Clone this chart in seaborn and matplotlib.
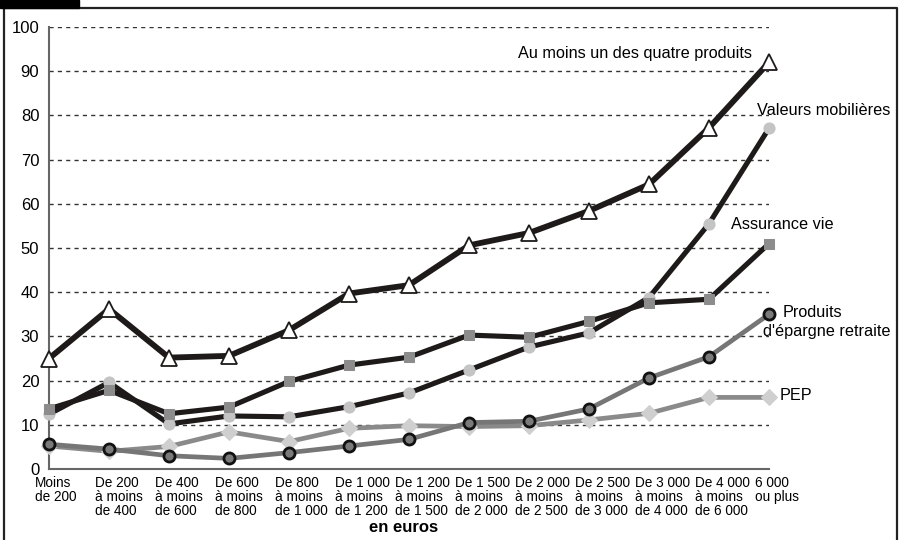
import matplotlib
matplotlib.use("Agg")
import matplotlib.pyplot as plt
import matplotlib.transforms as mtransforms
from matplotlib.lines import Line2D
from matplotlib.patches import Rectangle
import seaborn as sns
import numpy as np

categories = ["Moins\nde 200", "De 200\nà moins\nde 400", "De 400\nà moins\nde 600",
              "De 600\nà moins\nde 800", "De 800\nà moins\nde 1 000", "De 1 000\nà moins\nde 1 200",
              "De 1 200\nà moins\nde 1 500", "De 1 500\nà moins\nde 2 000", "De 2 000\nà moins\nde 2 500",
              "De 2 500\nà moins\nde 3 000", "De 3 000\nà moins\nde 4 000", "De 4 000\nà moins\nde 6 000",
              "6 000\nou plus"]
au_moins_un = [25, 36.2, 25.2, 25.6, 31.4, 39.7, 41.6, 50.6, 53.4, 58.4, 64.4, 77.2, 92]
valeurs_mobilieres = [12.4, 19.6, 10.2, 12.0, 11.8, 14.1, 17.2, 22.4, 27.6, 30.8, 38.8, 55.5, 77.1]
assurance_vie = [13.6, 17.8, 12.5, 14.0, 19.8, 23.5, 25.3, 30.3, 29.8, 33.4, 37.6, 38.4, 51.0]
epargne_retraite = [5.6, 4.5, 3.0, 2.4, 3.7, 5.2, 6.7, 10.5, 10.8, 13.6, 20.6, 25.4, 35.0]
pep = [5.2, 4.0, 5.1, 8.4, 6.2, 9.2, 9.8, 9.6, 9.8, 11.1, 12.6, 16.2, 16.2]
y_ticks = [0, 10, 20, 30, 40, 50, 60, 70, 80, 90, 100]
x_title = "en euros"

sns.set_theme(style="white")
plt.rcParams['font.family'] = ['Liberation Sans', 'DejaVu Sans']

fig = plt.figure(figsize=(9.01, 5.40), dpi=100)
W, H = 901, 540
ax = fig.add_axes([49 / W, 71 / H, 720 / W, 442 / H])

x = np.arange(len(categories))

# PEP
sns.lineplot(x=x, y=pep, ax=ax, color="#8a8a8a", lw=3.4, marker="D", markersize=8,
             markerfacecolor="#cfcfcf", markeredgecolor="#cfcfcf", clip_on=False, zorder=3)
# Produits d'epargne retraite
sns.lineplot(x=x, y=epargne_retraite, ax=ax, color="#767676", lw=3.4, marker="o", markersize=8,
             markerfacecolor="#7a7a7a", markeredgecolor="#111111", markeredgewidth=2.0,
             clip_on=False, zorder=4)
# Valeurs mobilieres
sns.lineplot(x=x, y=valeurs_mobilieres, ax=ax, color="#1e1a1a", lw=3.7, marker="o", markersize=8,
             markerfacecolor="#c4c4c4", markeredgecolor="#c4c4c4", clip_on=False, zorder=5)
# Assurance vie
sns.lineplot(x=x, y=assurance_vie, ax=ax, color="#1e1a1a", lw=3.7, marker="s", markersize=7.5,
             markerfacecolor="#8c8c8c", markeredgecolor="#8c8c8c", clip_on=False, zorder=6)
# Au moins un des quatre produits
sns.lineplot(x=x, y=au_moins_un, ax=ax, color="#1e1a1a", lw=4.2, marker="^", markersize=11.5,
             markerfacecolor="white", markeredgecolor="#1e1a1a", markeredgewidth=1.3,
             clip_on=False, zorder=7)

ax.set_xlim(0, len(categories) - 1)
ax.set_ylim(0, 100)
ax.set_yticks(y_ticks)
ax.set_yticklabels([str(v) for v in y_ticks], fontsize=12, color="black")
ax.set_xticks(x)
ax.set_xticklabels([])

# category labels, left-aligned blocks slightly left of each tick
blend = mtransforms.blended_transform_factory(ax.transData, ax.transAxes)
offset = mtransforms.ScaledTranslation(-14 / 100, -7 / 100, fig.dpi_scale_trans)
for i, lab in enumerate(categories):
    ax.text(i, 0, lab, transform=blend + offset, ha="left", va="top", fontsize=9.8,
            linespacing=0.98, color="black", clip_on=False)

ax.set_xlabel("")
ax.set_ylabel("")
for s in ["top", "right"]:
    ax.spines[s].set_visible(False)
for s in ["left", "bottom"]:
    ax.spines[s].set_color("#666666")
    ax.spines[s].set_linewidth(1.5)
ax.tick_params(axis="both", which="both", direction="out", length=3, width=1.2,
               color="#666666", pad=4)
ax.yaxis.grid(True, linestyle=(0, (3, 3)), color="#333333", lw=1.0)
ax.xaxis.grid(False)
ax.set_axisbelow(True)
if ax.legend_:
    ax.legend_.remove()

lab_kw = dict(fontsize=11.7, color="black", clip_on=False)
ax.text(11.72, 94.1, "Au moins un des quatre produits", ha="right", va="center", **lab_kw)
ax.text(11.8, 81.0, "Valeurs mobilières", ha="left", va="center", **lab_kw)
ax.text(11.37, 55.3, "Assurance vie", ha="left", va="center", **lab_kw)
ax.text(12.22, 35.3, "Produits", ha="left", va="center", **lab_kw)
ax.text(11.9, 31.0, "d'épargne retraite", ha="left", va="center", **lab_kw)
ax.text(12.17, 16.7, "PEP", ha="left", va="center", **lab_kw)

fig.text(404 / W, 1 - 527 / H, x_title, ha="center", va="center", fontsize=12,
         fontweight="bold", color="black")

# frame (left, top, right) and tab
fig.lines.append(Line2D([4 / W, 4 / W, 897 / W, 897 / W], [0, 532 / H, 532 / H, 0],
                        transform=fig.transFigure, lw=1.6, color="#222222", zorder=10))
fig.patches.append(Rectangle((0, 532 / H), 79 / W, 8 / H, transform=fig.transFigure,
                             fc="black", ec="black", zorder=11))

fig.savefig("out.png", dpi=100)
